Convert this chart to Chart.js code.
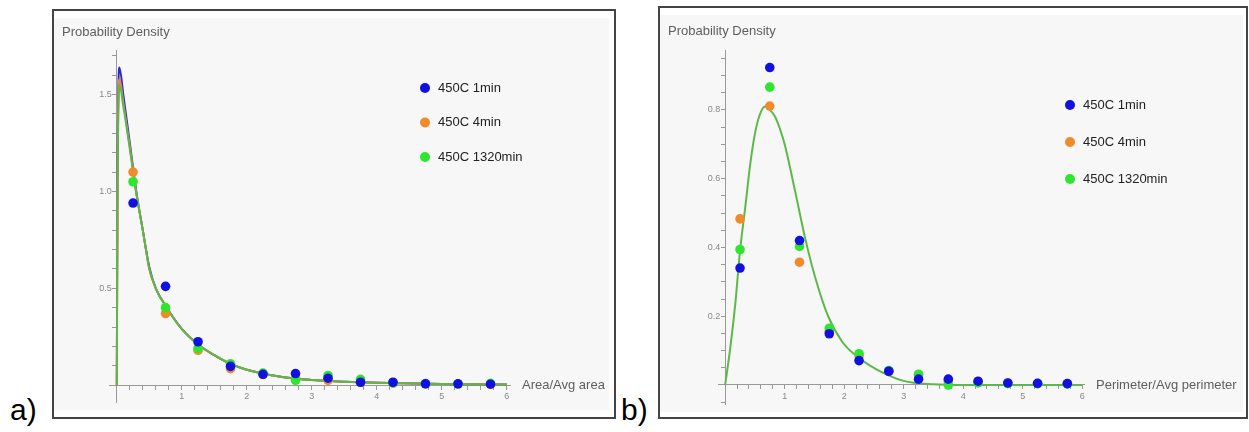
<!DOCTYPE html>
<html>
<head>
<meta charset="utf-8">
<script src="https://cdn.jsdelivr.net/npm/chart.js@4.4.0/dist/chart.umd.min.js"></script>
<style>
    body { margin: 0; background: #fff; width: 1249px; height: 432px; position: relative; overflow: hidden; font-family: "Liberation Sans", Arial, sans-serif; }
    .box { position: absolute; border: 2px solid #444; box-sizing: border-box; }
    .plot { position: absolute; background: #f7f7f7; }
    .tag { position: absolute; font-size: 30px; line-height: 30px; color: #000; }
</style>
</head>
<body>
<div class="box" style="left:52px;top:9px;width:564px;height:410px"></div>
<div class="plot" style="left:54px;top:18px;width:555px;height:392px"><canvas id="areaChart"></canvas></div>
<div class="box" style="left:658px;top:6px;width:590px;height:413px"></div>
<div class="plot" style="left:660px;top:15px;width:583px;height:397px"><canvas id="perimChart"></canvas></div>
<div class="tag" style="left:10px;top:395px">a)</div>
<div class="tag" style="left:621px;top:395px">b)</div>
<script>
// bin centres shared by both histograms
const binCenters = [0.25, 0.75, 1.25, 1.75, 2.25, 2.75, 3.25, 3.75, 4.25, 4.75, 5.25, 5.75];
const seriesNames = ['450C 1min', '450C 4min', '450C 1320min'];

// a) area / avg area
const area1min = [0.94, 0.51, 0.224, 0.097, 0.056, 0.06, 0.036, 0.015, 0.015, 0.007, 0.007, 0.005];
const area4min = [1.10, 0.37, 0.18, 0.085, 0.055, 0.035, 0.025, 0.015, 0.01, 0.008, 0.006, 0.005];
const area1320min = [1.05, 0.40, 0.19, 0.11, 0.062, 0.025, 0.05, 0.03, 0.012, 0.008, 0.006, 0.009];

const areaFitX = [0, 0.01, 0.04, 0.1, 0.2, 0.3, 0.4, 0.5, 0.6, 0.75, 1.0, 1.25, 1.5, 1.75, 2.0, 2.5, 3.0, 3.5, 4.0, 5.0, 6.0];
const areaFit1min = [0, 1.0, 1.64, 1.50, 1.25, 1.0, 0.80, 0.61, 0.50, 0.41, 0.29, 0.21, 0.155, 0.11, 0.08, 0.045, 0.027, 0.018, 0.012, 0.006, 0.003];
const areaFit4min = [0, 0.95, 1.58, 1.46, 1.23, 0.99, 0.80, 0.60, 0.50, 0.41, 0.29, 0.21, 0.155, 0.11, 0.08, 0.045, 0.027, 0.018, 0.012, 0.006, 0.003];
const areaFit1320min = [0, 0.9, 1.55, 1.44, 1.22, 0.99, 0.80, 0.60, 0.50, 0.41, 0.29, 0.21, 0.155, 0.11, 0.08, 0.045, 0.027, 0.018, 0.012, 0.006, 0.003];

// b) perimeter / avg perimeter
const perim1min = [0.34, 0.923, 0.42, 0.149, 0.071, 0.04, 0.017, 0.017, 0.011, 0.006, 0.005, 0.004];
const perim4min = [0.483, 0.811, 0.357, 0.155, 0.085, 0.04, 0.03, 0.01, 0.008, 0.005, 0.004, 0.004];
const perim1320min = [0.394, 0.866, 0.403, 0.165, 0.091, 0.042, 0.031, 0.0, 0.006, 0.004, 0.004, 0.003];

const perimFitX = [0, 0.08, 0.17, 0.25, 0.34, 0.42, 0.5, 0.58, 0.67, 0.75, 0.84, 0.92, 1.0, 1.18, 1.34, 1.51, 1.73, 1.97, 2.2, 2.55, 3.0, 3.5, 4.0, 5.0, 6.0];
const perimFit = [0, 0.1, 0.235, 0.39, 0.52, 0.64, 0.73, 0.785, 0.81, 0.80, 0.78, 0.745, 0.70, 0.56, 0.43, 0.315, 0.20, 0.125, 0.085, 0.045, 0.012, 0.002, 0, 0, 0];

const dotColors = ['#1010e0', '#f08a2a', '#2ee62e'];
const curveColors = ['#2a2ad0', '#e8873a', '#5cb848'];
const fontFamily = '"Liberation Sans", Arial, sans-serif';

function pts(xs, ys) {
    return xs.map((x, i) => ({ x: x, y: ys[i] }));
}

function dots(i, ys) {
    return {
        label: seriesNames[i], data: pts(binCenters, ys),
        backgroundColor: dotColors[i], borderWidth: 0,
        pointRadius: 4.8, order: [0, 2, 1][i]
    };
}

function curve(i, xs, ys) {
    return {
        label: 'fit', data: pts(xs, ys), showLine: true,
        borderColor: curveColors[i], borderWidth: 2, pointRadius: 0,
        cubicInterpolationMode: 'monotone', order: [7, 6, 5][i]
    };
}

// axis titles and dot legend drawn inside the plot
const overlay = {
    id: 'overlay',
    afterDraw(chart, args, opts) {
        const ctx = chart.ctx;
        const area = chart.chartArea;
        ctx.save();
        ctx.font = '13px ' + fontFamily;
        ctx.textBaseline = 'middle';
        ctx.fillStyle = '#5e5e5e';
        ctx.fillText('Probability Density', 8, opts.titleY);
        ctx.fillText(opts.xTitle, area.right + 12, chart.scales.y.getPixelForValue(0));
        seriesNames.forEach((name, i) => {
            const y = opts.legendY + i * opts.legendGap;
            ctx.fillStyle = dotColors[i];
            ctx.beginPath();
            ctx.arc(opts.legendX, y, 5, 0, Math.PI * 2);
            ctx.fill();
            ctx.fillStyle = '#222';
            ctx.fillText(name, opts.legendX + 13, y);
        });
        ctx.restore();
    }
};

function axis(min, max, step, label, posAxis, zeroSize) {
    return {
        type: 'linear', min: min, max: max,
        position: posAxis,
        afterFit: zeroSize,
        grid: { drawOnChartArea: false, drawTicks: true, tickLength: 4, tickColor: '#999' },
        border: { color: '#999', width: 1 },
        ticks: {
            stepSize: step, autoSkip: false, includeBounds: false, maxRotation: 0,
            color: '#888', font: { size: 9, family: fontFamily }, padding: 2,
            callback: label
        }
    };
}

function intLabel(v) {
    const r = Math.round(v);
    return (Math.abs(v - r) < 1e-6 && r > 0) ? String(r) : '';
}

function makeChart(id, datasets, xr, yr, yStep, yLabels, pad, ov) {
    return new Chart(document.getElementById(id), {
        type: 'scatter',
        data: { datasets: datasets },
        options: {
            responsive: true, maintainAspectRatio: false, animation: false,
            layout: { padding: pad },
            scales: {
                x: axis(xr[0], xr[1], 0.2, intLabel, { y: 0 }, (s) => { s.height = 0; }),
                // trailing spaces keep the right-aligned labels off the axis line
                y: axis(yr[0], yr[1], yStep, (v) => {
                    return yLabels.some((t) => Math.abs(t - v) < 1e-6) ? v.toFixed(1) + '  ' : '';
                }, { x: 0 }, (s) => { s.width = 0; })
            },
            plugins: { legend: { display: false }, tooltip: { enabled: false }, overlay: ov }
        },
        plugins: [overlay]
    });
}

makeChart('areaChart', [
    dots(0, area1min), dots(1, area4min), dots(2, area1320min),
    curve(0, areaFitX, areaFit1min), curve(1, areaFitX, areaFit4min), curve(2, areaFitX, areaFit1320min)
], [-0.12, 6.05], [-0.09, 1.73], 0.1, [0.5, 1.0, 1.5],
    { left: 55, top: 32, right: 99, bottom: 2 },
    { titleY: 14, xTitle: 'Area/Avg area', legendX: 371, legendY: 70, legendGap: 34.5 });

makeChart('perimChart', [
    dots(0, perim1min), dots(1, perim4min), dots(2, perim1320min),
    curve(2, perimFitX, perimFit)
], [-0.12, 6.03], [-0.057, 0.974], 0.05, [0.2, 0.4, 0.6, 0.8],
    { left: 58, top: 35, right: 159, bottom: 1 },
    { titleY: 16, xTitle: 'Perimeter/Avg perimeter', legendX: 410, legendY: 90, legendGap: 37 });
</script>
</body>
</html>
